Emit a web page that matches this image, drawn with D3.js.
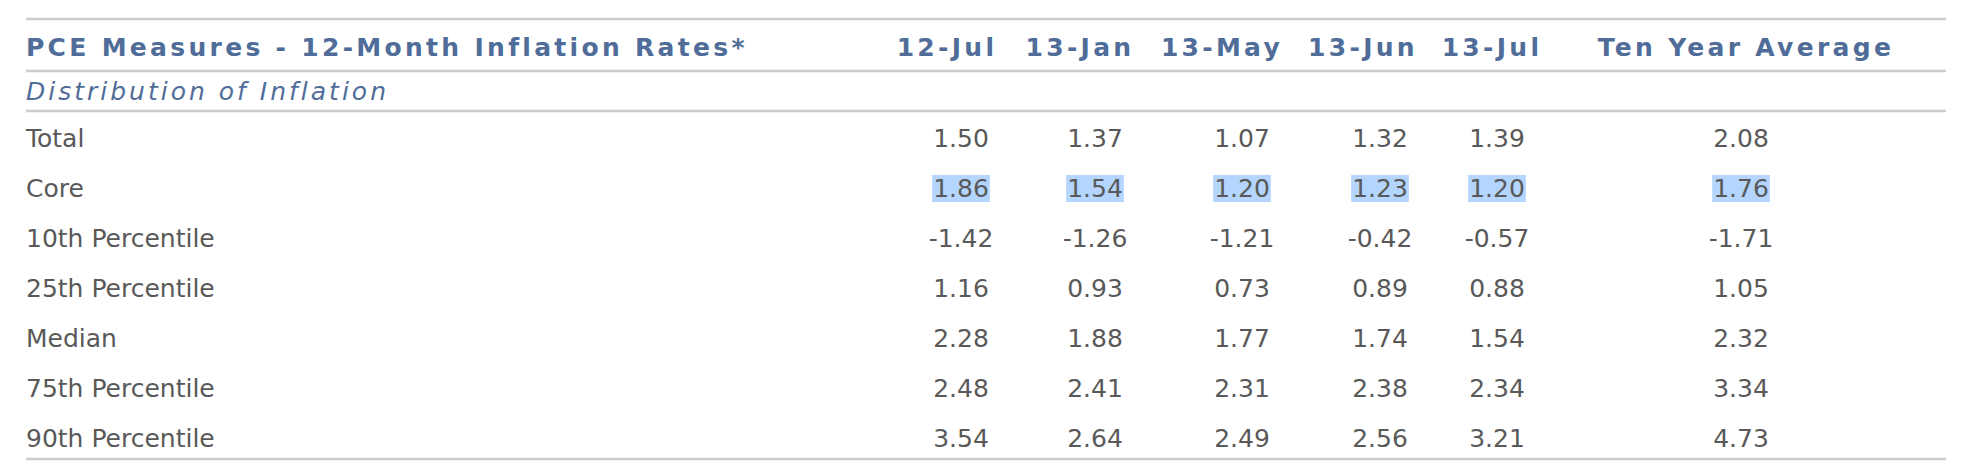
<!DOCTYPE html>
<html><head><meta charset="utf-8">
<script src="https://cdn.jsdelivr.net/npm/d3@7"></script>
<style>body{margin:0;background:#fff}</style></head>
<body><svg id="c" width="1970" height="464"></svg>
<script>
const title = "PCE Measures - 12-Month Inflation Rates*";
const subtitle = "Distribution of Inflation";
const columns = ["12-Jul","13-Jan","13-May","13-Jun","13-Jul","Ten Year Average"];
const rowLabels = ["Total","Core","10th Percentile","25th Percentile","Median","75th Percentile","90th Percentile"];
const total = ["1.50","1.37","1.07","1.32","1.39","2.08"];
const core = ["1.86","1.54","1.20","1.23","1.20","1.76"];
const p10 = ["-1.42","-1.26","-1.21","-0.42","-0.57","-1.71"];
const p25 = ["1.16","0.93","0.73","0.89","0.88","1.05"];
const median = ["2.28","1.88","1.77","1.74","1.54","2.32"];
const p75 = ["2.48","2.41","2.31","2.38","2.34","3.34"];
const p90 = ["3.54","2.64","2.49","2.56","3.21","4.73"];
const highlighted = ["Core"];
const values = [total,core,p10,p25,median,p75,p90];

const svg = d3.select("#c");
const left = 26, right = 1946;
const headX = d3.scaleOrdinal().domain(columns).range([947,1080,1222,1363,1492,1746]);
const valX = d3.scaleOrdinal().domain(columns).range([961,1095,1242,1380,1497,1741]);
const y = d3.scalePoint().domain(rowLabels).range([140,440]);

[19,71,111,459].forEach(v=>svg.append("line").attr("x1",left).attr("x2",right).attr("y1",v).attr("y2",v)
  .attr("stroke","#cccccc").attr("stroke-width",2.5));

const hf = "'DejaVu Sans', Verdana, sans-serif";
svg.append("text").attr("x",left).attr("y",49).attr("dominant-baseline","middle").text(title)
  .attr("font-family",hf).attr("font-weight","bold").attr("font-size",25).attr("letter-spacing",3.3).attr("fill","#4f6d98");
svg.selectAll(".h").data(columns).join("text").attr("x",d=>headX(d)).attr("y",49)
  .attr("text-anchor","middle").attr("dominant-baseline","middle").text(d=>d)
  .attr("font-family",hf).attr("font-weight","bold").attr("font-size",25).attr("letter-spacing",3.3).attr("fill","#4f6d98");
svg.append("text").attr("x",left).attr("y",93).attr("dominant-baseline","middle").text(subtitle)
  .attr("font-family",hf).attr("font-style","italic").attr("font-size",25).attr("letter-spacing",3).attr("fill","#4f6d98");

rowLabels.forEach((r,i)=>{
  const g = svg.append("g");
  g.append("text").attr("x",left).attr("y",y(r)).attr("dominant-baseline","middle").text(r)
    .attr("font-family",hf).attr("font-size",25).attr("fill","#595959");
  columns.forEach((c,j)=>{
    const t = g.append("text").attr("x",valX(c)).attr("y",y(r)).attr("text-anchor","middle")
      .attr("dominant-baseline","middle").text(values[i][j])
      .attr("font-family",hf).attr("font-size",25).attr("fill","#595959");
    if(highlighted.includes(r)){
      const b = t.node().getBBox();
      g.insert("rect","text").attr("x",b.x-1).attr("y",b.y+1).attr("width",b.width+2).attr("height",b.height-2).attr("fill","#b4d5fe");
    }
  });
});
</script></body></html>
